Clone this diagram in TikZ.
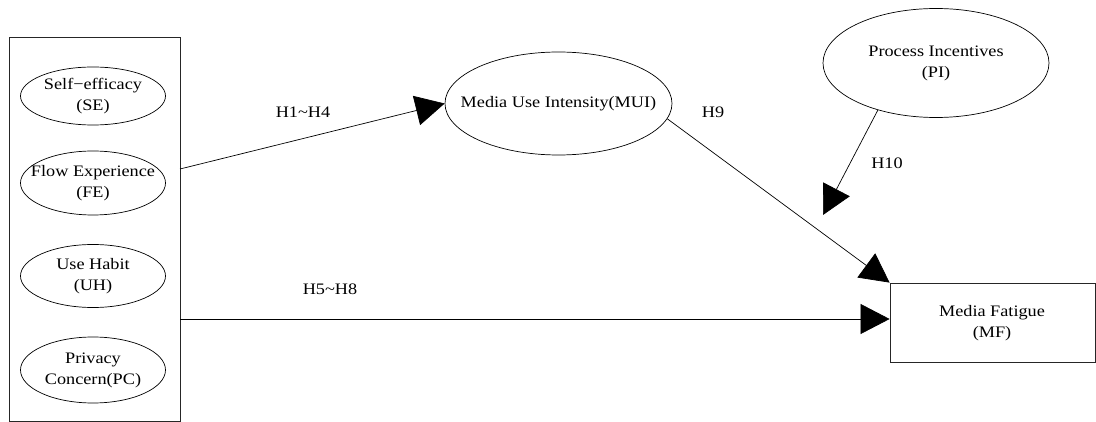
\documentclass[tikz,border=0pt]{standalone}
\usepackage{fontspec}
\setmainfont[FakeStretch=1.14]{Liberation Serif}
\usetikzlibrary{arrows.meta,shapes.geometric,calc}
\begin{document}
\begin{tikzpicture}[x=1pt,y=-1pt,
  every node/.style={font=\fontsize{16}{21}\selectfont, align=center, inner sep=0pt},
  ell/.style={draw, ellipse, line width=0.7pt},
  box/.style={draw=black!85, line width=0.8pt},
  conn/.style={line width=0.7pt, -{Triangle[length=29pt,width=30pt]}}]
\useasboundingbox (0,0) rectangle (1096,422);
% left group box
\node[box, minimum width=171pt, minimum height=384pt] (grp) at (94.5,229) {};
% left ellipses
\node[ell, minimum width=145pt, minimum height=58pt] (SE) at (93,96) {};
\node (SEt) at (SE) {Self−efficacy\\(SE)};
\node[ell, minimum width=145pt, minimum height=64pt] (FE) at (93,183) {};
\node (FEt) at (FE) {Flow Experience\\(FE)};
\node[ell, minimum width=145pt, minimum height=63pt] (UH) at (93,276) {};
\node (UHt) at (UH) {Use Habit\\(UH)};
\node[ell, minimum width=145pt, minimum height=66pt] (PC) at (93,370) {};
\node (PCt) at (PC) {Privacy\\Concern(PC)};
% MUI
\node[ell, minimum width=227pt, minimum height=103pt] (MUI) at (558.5,103.5) {};
\node (MUIt) at (MUI) {Media Use Intensity(MUI)};
% PI
\node[ell, minimum width=226pt, minimum height=109pt] (PI) at (936,63) {};
\node (PIt) at (PI) {Process Incentives\\(PI)};
% MF
\node[box, minimum width=205pt, minimum height=79pt] (MF) at (992.5,322.5) {};
\node (MFt) at (992,323) {Media Fatigue\\(MF)};
% connectors
\coordinate (s1) at (180,169);
\coordinate (s2) at (180,319);
\coordinate (piend) at (823,215);
\draw[conn] (s1) -- (MUI.west);
\draw[conn] (s2) -- (MF.west |- s2);
\draw[conn] (MUI.-8) -- (MF.north west);
\draw[conn] (PI.219) -- (piend);
% labels
\node (l1) at (303,112) {H1\textasciitilde H4};
\node (l2) at (330,289) {H5\textasciitilde H8};
\node (l3) at (713,112) {H9};
\node (l4) at (887,163) {H10};
\end{tikzpicture}
\end{document}
